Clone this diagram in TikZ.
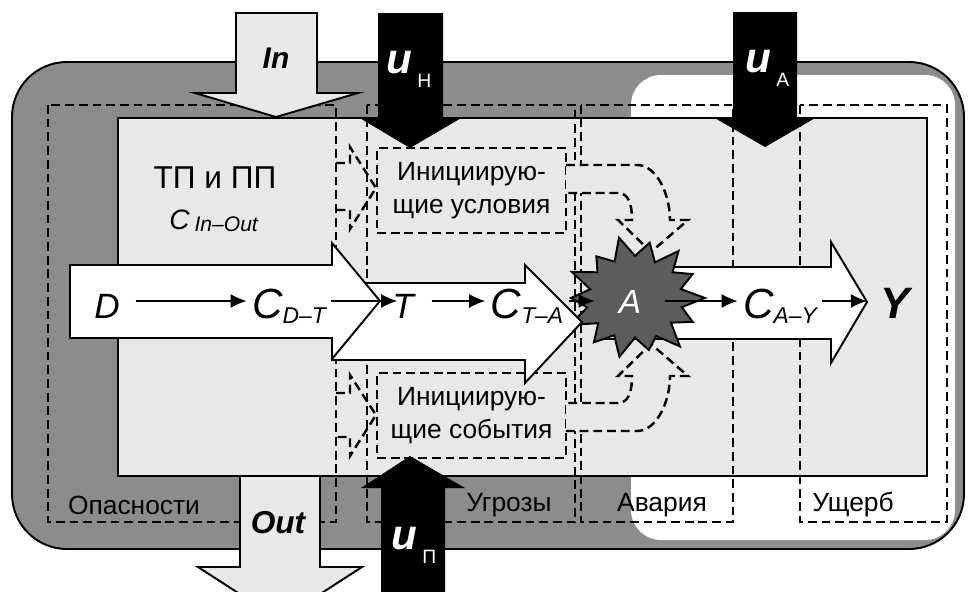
\documentclass[tikz,border=0pt]{standalone}
\usepackage{fontspec}
\setmainfont{Liberation Sans}
\usetikzlibrary{arrows.meta,calc}
\definecolor{framegray}{gray}{0.55}
\definecolor{boxgray}{gray}{0.91}
\definecolor{stargray}{gray}{0.36}
\newcommand{\Cflow}[1]{{\fontsize{24}{24}\selectfont\textit{C}}\raisebox{-3pt}{\fontsize{13}{13}\selectfont\textit{#1}}}
\newcommand{\uctl}[1]{{\fontsize{24}{24}\selectfont\bfseries\itshape u}\hspace{3pt}\raisebox{-8pt}{\fontsize{11}{11}\selectfont #1}}

\begin{document}
\begin{tikzpicture}[x=0.02cm, y=-0.02cm,
  region/.style={draw, line width=1.4pt, dash pattern=on 5pt off 2.8pt},
  blockarr/.style={draw, line width=1.1pt, fill=white},
  inarr/.style={draw, line width=1.1pt, fill=boxgray},
  initbox/.style={region, minimum width=3.78cm, minimum height=1.7cm, align=center, font=\fontsize{15}{19}\selectfont},
  lbl/.style={font=\fontsize{15}{18}\selectfont},
  var/.style={font=\fontsize{20}{20}\selectfont\itshape, inner sep=3pt, anchor=base},
  arr/.style={-{Latex[length=3.2mm,width=2.8mm]}, line width=0.9pt}
]
\useasboundingbox (0,0) rectangle (968,592);
\clip (0,0) rectangle (968,592);
\fill[white] (0,0) rectangle (968,592);
\draw[fill=framegray, line width=1.1pt, rounded corners=1.1cm] (12,62) rectangle (964,549);
\fill[white, rounded corners=0.6cm] (631,75) rectangle (955,540);
\draw[fill=boxgray, line width=1.3pt] (118,118) rectangle (927,476);

\draw[region] (48,105) rectangle (336,522);
\draw[region] (367,105) rectangle (575,522);
\draw[region] (581,105) rectangle (733,522);
\draw[region] (800,105) rectangle (947,522);

\node[lbl] (haz) at (134,505) {Опасности};
\node[lbl] (thr) at (509,505) {Угрозы};
\node[lbl] (acc) at (662,505) {Авария};
\node[lbl] (dmg) at (853,505) {Ущерб};

\node[font=\fontsize{18}{18}\selectfont] (tp) at (215,178) {ТП и ПП};
\node[font=\fontsize{16}{16}\selectfont] (cio) at (214,221) {\textit{C}\,\raisebox{-1pt}{\fontsize{12}{12}\selectfont\textit{In–Out}}};

\node[initbox] (icond) at (471.5,190.5) {Инициирую-\\щие условия};
\node[initbox] (ievt) at (471.5,415.5) {Инициирую-\\щие события};

\draw[region] (336,163) -- (350,163) -- (350,147) -- (376,188) -- (350,229) -- (350,210) -- (336,210);
\draw[region] (336,393) -- (350,393) -- (350,375) -- (376,415) -- (350,456) -- (350,437) -- (336,437);

\filldraw[region, fill=boxgray] (566,165) -- (637,165) .. controls (657,165) and (670,195) .. (670,220) -- (688,220) -- (651,252) -- (618,220) -- (632,220) .. controls (632,203) and (628,193) .. (618,193) -- (566,193);
\filldraw[region, fill=boxgray] (566,431) -- (637,431) .. controls (657,431) and (670,401) .. (670,376) -- (688,376) -- (651,344) -- (618,376) -- (632,376) .. controls (632,393) and (628,403) .. (618,403) -- (566,403);

\draw[blockarr] (600,267) -- (831,267) -- (831,242) -- (867,302) -- (831,363) -- (831,339) -- (600,339) -- cycle;
\coordinate (sc) at (635,298);
\filldraw[fill=stargray, line width=1.1pt] ($(sc)+(0:70 and 60)$) \foreach \k/\r in {1/48,2/64,3/46,4/72,5/49,6/62,7/46,8/70,9/48,10/66,11/47,12/72,13/49,14/64,15/46,16/70,17/48,18/62,19/47,20/72,21/49,22/66,23/46,24/70,25/48,26/64,27/47} { -- ($(sc)+({\k*12.857}:{\r*1.0} and {\r*0.86})$) } -- cycle;
\draw[blockarr] (332,283) -- (525,283) -- (525,265) -- (582,322) -- (525,383) -- (525,360) -- (332,360) -- cycle;
\draw[blockarr] (70,265) -- (332,265) -- (332,243) -- (380,301) -- (332,359) -- (332,338) -- (70,338) -- cycle;

\draw[inarr] (236,13) -- (317,13) -- (317,93) -- (358,93) -- (276,117) -- (195,93) -- (236,93) -- cycle;
\fill (378,13) -- (443,13) -- (443,117) -- (463,117) -- (410,148) -- (358,117) -- (378,117) -- cycle;
\fill (733,12) -- (797,12) -- (797,117) -- (817,117) -- (765,147) -- (713,117) -- (733,117) -- cycle;
\draw[inarr] (240,476) -- (320,476) -- (320,567) -- (362,567) -- (280,620) -- (198,567) -- (240,567) -- cycle;
\fill (381,600) -- (381,488) -- (361,488) -- (410,456) -- (465,488) -- (445,488) -- (445,600) -- cycle;

\node[font=\fontsize{17}{17}\selectfont\bfseries\itshape] (in) at (276,58) {In};
\node[font=\fontsize{18}{18}\selectfont\bfseries\itshape] (out) at (278,523) {Out};
\node[anchor=base west, inner sep=0pt, text=white] (uh) at (386,73) {\uctl{Н}};
\node[anchor=base west, inner sep=0pt, text=white] (ua) at (745,72) {\uctl{А}};
\node[anchor=base west, inner sep=0pt, text=white] (up) at (391,549) {\uctl{П}};

\coordinate (row) at (0,301);
\node[var] (D) at (107,318) {D};
\node[var] (CDT) at (289,318) {\Cflow{D–T}};
\node[var] (T) at (403,318) {T};
\node[var] (CTA) at (527,318) {\Cflow{T–A}};
\node[var, text=white, font=\fontsize{19}{19}\selectfont\itshape, minimum width=1.4cm] (A) at (630,313) {A};
\node[var] (CAY) at (780,318) {\Cflow{A–Y}};
\node[var, font=\fontsize{25}{25}\selectfont\bfseries\itshape] (Y) at (895,318) {Y};

\draw[arr, shorten <=6pt] (D.east |- row) -- (CDT.west |- row);
\draw[arr, shorten >=-6pt] (CDT.east |- row) -- (T.west |- row);
\draw[arr, shorten <=7pt] (T.east |- row) -- (CTA.west |- row);
\draw[arr] (CTA.east |- row) -- (A.west |- row);
\draw[arr] (A.east |- row) -- (CAY.west |- row);
\draw[arr, shorten >=4.5pt] (CAY.east |- row) -- (Y.west |- row);
\end{tikzpicture}
\end{document}
